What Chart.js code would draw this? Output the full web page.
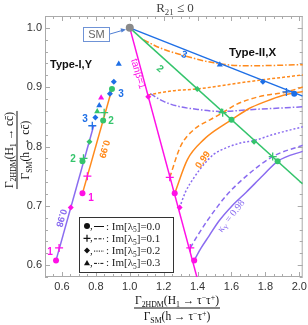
<!DOCTYPE html>
<html><head><meta charset="utf-8">
<script src="https://cdn.jsdelivr.net/npm/chart.js@4.4.1/dist/chart.umd.min.js"></script>
<style>html,body{margin:0;padding:0;background:#fff}#w{width:308px;height:325px;position:relative}</style>
</head><body><div id="w"><canvas id="c"></canvas></div>
<script>
// ---- tick labels ----
const xTicks=[0.6,0.8,1.0,1.2,1.4,1.6,1.8,2.0];
const yTicks=[0.6,0.7,0.8,0.9,1.0];

// ---- reference lines ----
const smPoint=[[1.0,1.0]];
const blueLine=[[1.0,1.0],[2.02,0.885]];
const greenLine=[[1.0,1.0],[2.02,0.737]];
const tanbLine=[[1.0,1.0],[1.41,0.565]];

// ---- Type-I,Y lines ----
const purpleI=[[0.565,0.608],[0.787,0.835]];
const orangeI=[[0.721,0.721],[0.895,0.897]];

// ---- Type-II,X curves, kappa=0.99 ----
const oSolid=[[1.265,0.721],[1.340,0.778],[1.438,0.812],[1.513,0.829],[1.600,0.845],[1.704,0.864],[1.802,0.876],[1.901,0.886],[2.03,0.893]];
const oDashed=[[1.236,0.748],[1.299,0.800],[1.380,0.829],[1.473,0.845],[1.548,0.857],[1.629,0.871],[1.762,0.884],[1.924,0.892],[2.03,0.901]];
const oDotted=[[1.109,0.887],[1.253,0.894],[1.398,0.897],[1.571,0.904],[1.744,0.911],[2.03,0.921]];
const oDashDot=[[1.080,0.980],[1.180,0.966],[1.299,0.955],[1.496,0.941],[1.687,0.936],[2.03,0.938]];

// ---- Type-II,X curves, kappa=0.98 ----
const pSolid=[[1.380,0.608],[1.421,0.629],[1.467,0.649],[1.525,0.674],[1.600,0.699],[1.687,0.723],[1.785,0.751],[1.872,0.775],[2.03,0.793]];
const pDashed=[[1.357,0.629],[1.398,0.649],[1.455,0.674],[1.513,0.697],[1.571,0.718],[1.687,0.750],[1.843,0.783],[2.03,0.803]];
const pDotted=[[1.294,0.697],[1.328,0.723],[1.380,0.748],[1.438,0.770],[1.496,0.787],[1.571,0.798],[1.669,0.807],[1.733,0.810],[1.843,0.820],[2.03,0.834]];
const pDashDot=[[1.120,0.889],[1.200,0.876],[1.282,0.868],[1.415,0.862],[1.542,0.859],[1.704,0.862],[2.03,0.867]];

// ---- markers ----
const magentaCircle=[[0.565,0.608],[0.721,0.721],[1.265,0.721],[1.380,0.608]];
const magentaPlus=[[0.583,0.629],[0.750,0.750],[1.236,0.748],[1.357,0.629]];
const magentaDiamond=[[0.652,0.697],[1.294,0.697],[1.109,0.884]];
const magentaTriangle=[[0.831,0.882]];
const greenCircle=[[0.721,0.775],[0.843,0.844],[0.895,0.897],[1.600,0.845],[1.872,0.775]];
const greenPlus=[[0.727,0.780],[0.849,0.857],[1.548,0.857],[1.843,0.783]];
const greenDiamond=[[0.762,0.808],[1.398,0.897],[1.733,0.808]];
const greenTriangle=[[0.808,0.859],[1.542,0.859]];
const blueCircle=[[1.970,0.889]];
const bluePlus=[[0.779,0.835],[1.924,0.892]];
const blueDiamond=[[0.797,0.849],[0.883,0.889],[0.906,0.909],[1.785,0.909]];
const blueTriangle=[[0.820,0.869],[0.935,0.939],[1.531,0.938]];

const C={blue:'#1e6fe6',green:'#34c46c',mag:'#ff10e6',orange:'#ff8a1c',purple:'#8a6cf0',gray:'#8a8a8a'};
const xy=a=>a.map(([x,y])=>({x,y}));
const DASH=[5,3], DOT=[2,2], ODOT=[3,2], DD=[6,2,1.5,2];

function line(data,color,dash,smooth){return {data:xy(data),showLine:true,borderColor:color,borderWidth:1.5,borderDash:dash||[],pointRadius:0,tension:smooth?0.4:0,cubicInterpolationMode:smooth?'monotone':'default',order:2};}
function mk(data,color,style){const cross=style==='cross';return {data:xy(data),showLine:false,pointStyle:style,pointRadius:cross?4:(style==='triangle'?3.5:3),backgroundColor:color,borderColor:color,borderWidth:cross?1.3:0,order:0};}

const datasets=[
 line(blueLine,C.blue),line(greenLine,C.green),
 line(purpleI,C.purple),line(orangeI,C.orange),
 line(oSolid,C.orange,[],1),line(oDashed,C.orange,DASH,1),line(oDotted,C.orange,ODOT,1),line(oDashDot,C.orange,DD,1),
 line(pSolid,C.purple,[],1),line(pDashed,C.purple,DASH,1),line(pDotted,C.purple,DOT,1),line(pDashDot,C.purple,DD,1),
 Object.assign(line(tanbLine,C.mag),{order:1}),
 mk(magentaCircle,C.mag,'circle'),mk(magentaPlus,C.mag,'cross'),mk(magentaDiamond,C.mag,'rectRot'),mk(magentaTriangle,C.mag,'triangle'),
 mk(greenCircle,C.green,'circle'),mk(greenPlus,C.green,'cross'),mk(greenDiamond,C.green,'rectRot'),mk(greenTriangle,C.green,'triangle'),
 mk(blueCircle,C.blue,'circle'),mk(bluePlus,C.blue,'cross'),mk(blueDiamond,C.blue,'rectRot'),mk(blueTriangle,C.blue,'triangle'),
 Object.assign(mk(smPoint,C.gray,'circle'),{pointRadius:4})
];

function rich(ctx,segs,x,y,F,align){
  const fam='"Liberation Serif","DejaVu Serif",serif';
  let w=0; const m=segs.map(s=>{const sz=s.s?F*0.68:F;ctx.font=sz+'px '+fam;const ww=ctx.measureText(s.t).width;w+=ww;return {s,sz,ww};});
  let cx=align==='left'?x:x-w/2;
  ctx.textBaseline='alphabetic';ctx.textAlign='left';
  m.forEach(o=>{ctx.font=o.sz+'px '+fam;const dy=o.s.s==='sub'?F*0.25:(o.s.s==='sup'?-F*0.38:0);ctx.fillText(o.s.t,cx,y+dy);cx+=o.ww;});
  return w;
}
function rtext(ctx,t,x,y,ang,color,font){ctx.save();ctx.translate(x,y);ctx.rotate(ang*Math.PI/180);ctx.fillStyle=color;ctx.font=font;ctx.textAlign='center';ctx.textBaseline='middle';ctx.fillText(t,0,0);ctx.restore();}
function marker(ctx,style,x,y,r){ctx.beginPath();
  if(style==='circle'){ctx.arc(x,y,r,0,Math.PI*2);ctx.fill();}
  else if(style==='cross'){ctx.lineWidth=1.2;ctx.moveTo(x-r,y);ctx.lineTo(x+r,y);ctx.moveTo(x,y-r);ctx.lineTo(x,y+r);ctx.stroke();}
  else if(style==='diamond'){ctx.moveTo(x,y-r);ctx.lineTo(x+r,y);ctx.lineTo(x,y+r);ctx.lineTo(x-r,y);ctx.closePath();ctx.fill();}
  else {ctx.moveTo(x,y-r);ctx.lineTo(x+r,y+r*0.8);ctx.lineTo(x-r,y+r*0.8);ctx.closePath();ctx.fill();}
}

const deco={id:'deco',
 beforeDatasetsDraw(chart){const ctx=chart.ctx,a=chart.chartArea,xs=chart.scales.x,ys=chart.scales.y;
  ctx.save();ctx.strokeStyle='#aaa';ctx.lineWidth=1;
  ctx.strokeRect(a.left+0.5,a.top+0.5,a.right-a.left-1,a.bottom-a.top-1);
  ctx.beginPath();
  for(let i=0;i<=30;i++){const v=0.5+i*0.05;const px=Math.round(xs.getPixelForValue(v))+0.5;const k=Math.round(v*100);const L=(k%20===0)?5:3;
   ctx.moveTo(px,a.bottom);ctx.lineTo(px,a.bottom-L);ctx.moveTo(px,a.top);ctx.lineTo(px,a.top+L);}
  for(let i=0;i<=22;i++){const v=0.58+i*0.02;const py=Math.round(ys.getPixelForValue(v))+0.5;const L=(i%5===1)?5:3;
   ctx.moveTo(a.left,py);ctx.lineTo(a.left+L,py);ctx.moveTo(a.right,py);ctx.lineTo(a.right-L,py);}
  ctx.stroke();ctx.restore();},
 afterDatasetsDraw(chart){const ctx=chart.ctx;
  ctx.save();
  const B='bold 11px "Liberation Sans",Arial,sans-serif';
  ctx.fillStyle='#111';ctx.font=B;ctx.textAlign='left';ctx.textBaseline='alphabetic';
  ctx.fillText('Type-I,Y',50,68);
  ctx.font='bold 11.5px "Liberation Sans",Arial,sans-serif';ctx.fillText('Type-II,X',229,56);
  rtext(ctx,'tanβ=1',138,74,73.7,C.mag,'10px "Liberation Sans",Arial,sans-serif');
  const L='bold 10px "Liberation Sans",Arial,sans-serif';
  rtext(ctx,'2',160,69,40.7,C.green,L);
  rtext(ctx,'3',184,55,20.7,C.blue,L);
  rtext(ctx,'0.99',203,160,-55,C.orange,'bold 9.5px "Liberation Sans",Arial,sans-serif');
  rtext(ctx,'0.99',104,149,106,C.orange,'bold 9.5px "Liberation Sans",Arial,sans-serif');
  rtext(ctx,'0.98',61,218,106,C.purple,'bold 9.5px "Liberation Sans",Arial,sans-serif');
  ctx.save();ctx.translate(231,216);ctx.rotate(-52*Math.PI/180);ctx.fillStyle=C.purple;
  rich(ctx,[{t:'κ'},{t:'Y',s:'sub'},{t:' = 0.98'}],0,3,10);ctx.restore();
  rtext(ctx,'1',50,252,0,C.mag,L);rtext(ctx,'1',91,198,0,C.mag,L);
  rtext(ctx,'2',73,159,0,C.green,L);rtext(ctx,'2',111,121,0,C.green,L);
  rtext(ctx,'3',85,119,0,C.blue,L);rtext(ctx,'3',121,94,0,C.blue,L);
  // SM box
  ctx.fillStyle='#fff';ctx.fillRect(83,27,26,14);ctx.strokeStyle='#6f93d6';ctx.lineWidth=1;ctx.strokeRect(83.5,27.5,26,14);
  ctx.fillStyle='#666';ctx.font='11px "Liberation Sans",Arial,sans-serif';ctx.textAlign='center';ctx.textBaseline='middle';ctx.fillText('SM',96.5,35);
  ctx.strokeStyle='#4f7fd4';ctx.fillStyle='#4f7fd4';ctx.beginPath();ctx.moveTo(110,34);ctx.lineTo(122,30.5);ctx.stroke();
  ctx.beginPath();ctx.moveTo(126,29.5);ctx.lineTo(120.5,28.2);ctx.lineTo(121.6,32.6);ctx.closePath();ctx.fill();
  // legend
  ctx.fillStyle='#fff';ctx.fillRect(79,217,94,55);ctx.strokeStyle='#333';ctx.lineWidth=1;ctx.strokeRect(79.5,217.5,94,55);
  const rows=[['circle',[],'0.0'],['cross',[3,1.5],'0.1'],['diamond',[1.2,1.2],'0.2'],['tri',[3,1.2,1,1.2],'0.3']];
  rows.forEach((r,i)=>{const y=226+i*12.3;ctx.fillStyle='#111';ctx.strokeStyle='#111';
   marker(ctx,r[0],87,y,r[0]==='cross'?3.5:3);
   ctx.font='11px "Liberation Serif",serif';ctx.textAlign='left';ctx.textBaseline='alphabetic';ctx.fillText(',',90,y+3);
   ctx.save();ctx.lineWidth=1;ctx.setLineDash(r[1]);ctx.beginPath();ctx.moveTo(94,y+0.5);ctx.lineTo(104,y+0.5);ctx.stroke();ctx.restore();
   ctx.fillStyle='#222';rich(ctx,[{t:': Im[λ'},{t:'5',s:'sub'},{t:']='+r[2]}],106,y+3.5,11,'left');});
  // title
  ctx.fillStyle='#444';rich(ctx,[{t:'R'},{t:'21',s:'sub'},{t:' ≤ 0'}],175,12,13);
  // x axis title
  ctx.fillStyle='#111';
  const w1=rich(ctx,[{t:'Γ'},{t:'2HDM',s:'sub'},{t:'(H'},{t:'1',s:'sub'},{t:' → τ'},{t:'−',s:'sup'},{t:'τ'},{t:'+',s:'sup'},{t:')'}],177,304,11.5);
  rich(ctx,[{t:'Γ'},{t:'SM',s:'sub'},{t:'(h → τ'},{t:'−',s:'sup'},{t:'τ'},{t:'+',s:'sup'},{t:')'}],177,320,11.5);
  ctx.fillRect(177-w1/2-1,307.5,w1+2,1);
  // y axis title
  ctx.save();ctx.translate(17,150);ctx.rotate(-Math.PI/2);
  const w2=rich(ctx,[{t:'Γ'},{t:'2HDM',s:'sub'},{t:'(H'},{t:'1',s:'sub'},{t:' → c'},{t:'c̄'},{t:')'}],0,-4,11.5);
  rich(ctx,[{t:'Γ'},{t:'SM',s:'sub'},{t:'(h → c'},{t:'c̄'},{t:')'}],0,12,11.5);
  ctx.fillRect(-w2/2-1,-0.5,w2+2,1);ctx.restore();
  ctx.restore();}
};

new Chart(document.getElementById('c'),{type:'scatter',data:{datasets},
 options:{responsive:true,maintainAspectRatio:false,animation:false,
  layout:{padding:{top:16,right:2,left:0,bottom:0}},
  plugins:{legend:{display:false},tooltip:{enabled:false}},
  scales:{
   x:{type:'linear',min:0.5,max:2.02,grid:{display:false,drawTicks:false},border:{display:false},
      afterBuildTicks:s=>{s.ticks=xTicks.map(v=>({value:v}));},afterFit:s=>{s.height=48;s.paddingLeft=0;s.paddingRight=0;},
      ticks:{padding:3,color:'#333',font:{family:'"Liberation Sans",Arial,sans-serif',size:11},callback:v=>Number(v).toFixed(1)}},
   y:{type:'linear',min:0.58,max:1.02,grid:{display:false,drawTicks:false},border:{display:false},
      afterBuildTicks:s=>{s.ticks=yTicks.map(v=>({value:v}));},afterFit:s=>{s.width=45;s.paddingTop=0;s.paddingBottom=0;},
      ticks:{padding:3,color:'#333',font:{family:'"Liberation Sans",Arial,sans-serif',size:11},callback:v=>Number(v).toFixed(1)}}
  }},
 plugins:[deco]});
</script></body></html>
